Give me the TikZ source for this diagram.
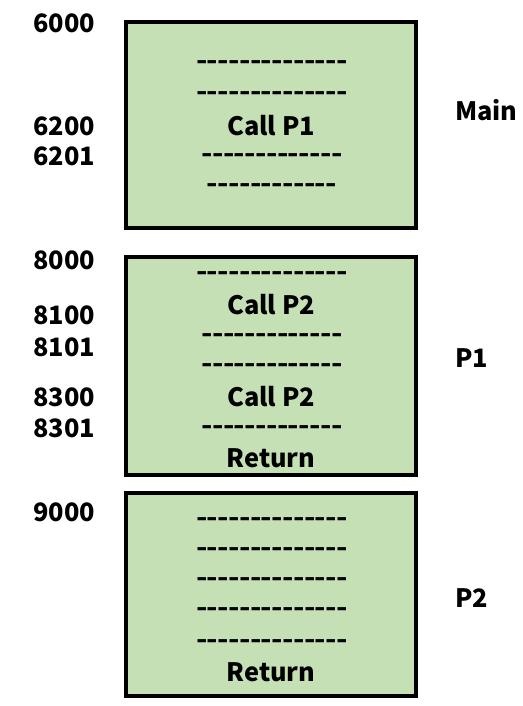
\documentclass[tikz,border=0pt]{standalone}
\usepackage{fontspec}
\setmainfont{Noto Sans CJK KR}
\usetikzlibrary{positioning}
\definecolor{memgreen}{HTML}{C5E0B4}
\newcommand{\dashrow}[1]{\foreach \k in {1,...,#1}{\makebox[8.1pt]{\scalebox{1.18}[1]{-}}}}

\begin{document}
\begin{tikzpicture}[x=0.75pt, y=-0.75pt,
		seg/.style={draw, line width=3pt, fill=memgreen},
		row/.style={anchor=base, inner sep=0pt, font=\fontsize{19}{22}\selectfont\bfseries},
		addr/.style={row, anchor=base west}]
				\useasboundingbox (0,0) rectangle (523,706);
				% segments
				\draw [seg] (126,22) rectangle (416,228);
				\draw [seg] (126,257) rectangle (416,475);
				\draw [seg] (126,493) rectangle (416,696);
				% Main
				\node [row] (m1) at (272,70) {\dashrow{14}};
				\node [row] (m2) at (272,101) {\dashrow{14}};
				\node [row] (m3) at (271,136) {Call P1};
				\node [row] (m4) at (272,162) {\dashrow{13}};
				\node [row] (m5) at (272,192) {\dashrow{12}};
				\node [addr] (a6000) at (33,33) {6000};
				\node [addr] (a6200) at (33,136) {6200};
				\node [addr] (a6201) at (33,166) {6201};
				\node [addr] (nmain) at (455,121) {Main};
				% P1
				\node [row] (pa1) at (272,280) {\dashrow{14}};
				\node [row] (pa2) at (271,314) {Call P2};
				\node [row] (pa3) at (272,342) {\dashrow{13}};
				\node [row] (pa4) at (272,372) {\dashrow{13}};
				\node [row] (pa5) at (271,406) {Call P2};
				\node [row] (pa6) at (272,434) {\dashrow{13}};
				\node [row] (pa7) at (271,467) {Return};
				\node [addr] (a8000) at (33,269) {8000};
				\node [addr] (a8100) at (33,324) {8100};
				\node [addr] (a8101) at (33,356) {8101};
				\node [addr] (a8300) at (33,406) {8300};
				\node [addr] (a8301) at (33,437) {8301};
				\node [addr] (np1) at (455,367) {P1};
				% P2
				\node [row] (pb1) at (272,526) {\dashrow{14}};
				\node [row] (pb2) at (272,556) {\dashrow{14}};
				\node [row] (pb3) at (272,586) {\dashrow{14}};
				\node [row] (pb4) at (272,616) {\dashrow{14}};
				\node [row] (pb5) at (272,648) {\dashrow{14}};
				\node [row] (pb6) at (271,681) {Return};
				\node [addr] (a9000) at (33,521) {9000};
				\node [addr] (np2) at (455,607) {P2};
				\end{tikzpicture}
\end{document}
